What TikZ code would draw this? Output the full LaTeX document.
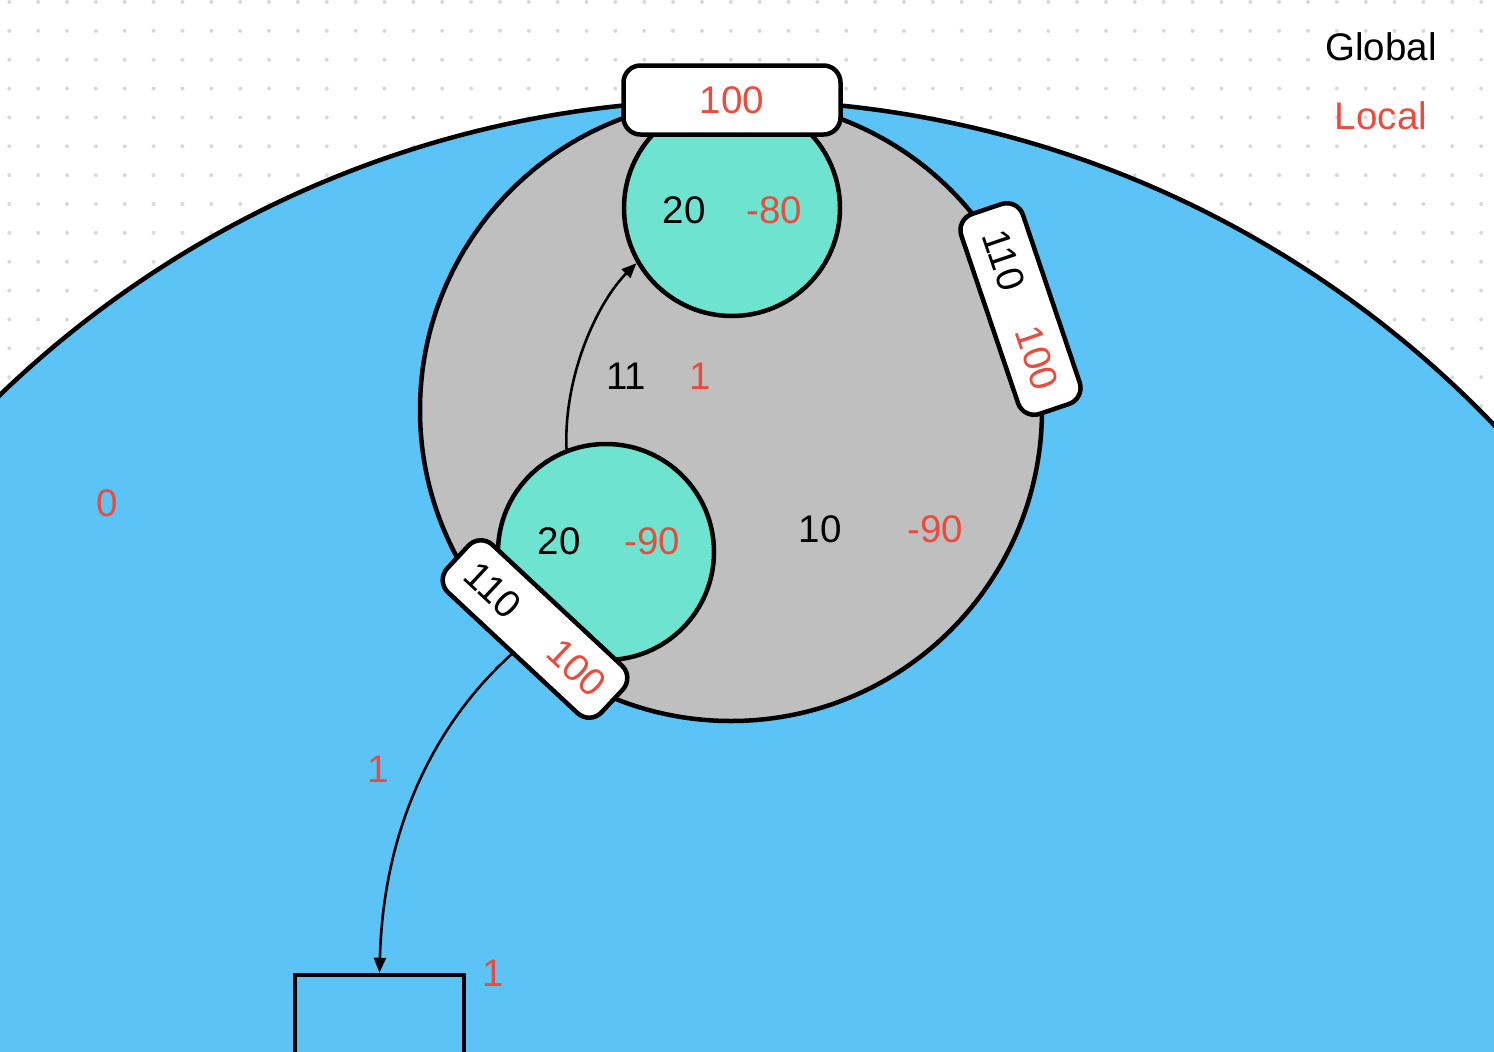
\documentclass[tikz,border=0pt]{standalone}
\usepackage{fontspec}
\setmainfont{Liberation Sans}
\usetikzlibrary{arrows.meta,calc}
\definecolor{bigblue}{HTML}{5BC3F6}
\definecolor{graycirc}{HTML}{BFBFBF}
\definecolor{tealc}{HTML}{6EE4D0}
\definecolor{redtxt}{HTML}{EB4B3D}
\definecolor{dotgray}{HTML}{D9D9D9}
\tikzset{
  every node/.style={font=\fontsize{38.5}{46}\selectfont, inner sep=0pt},
  circ/.style={circle, draw=black, line width=4.5pt, inner sep=0pt},
  tagbox/.style={rectangle, rounded corners=17pt, draw=black, line width=4.5pt, fill=white,
     minimum width=211pt, minimum height=65pt},
  lbl/.style={text=black},
  lblr/.style={text=redtxt},
  conn/.style={draw=black, line width=2.6pt, -{Triangle[length=15pt,width=12pt]}},
}
\begin{document}
\begin{tikzpicture}[x=1pt,y=-1pt]
\useasboundingbox (0,0) rectangle (1494,1052);
\clip (0,0) rectangle (1494,1052);
\fill[white] (0,0) rectangle (1494,1052);
\foreach \i in {0,...,51} {
  \foreach \j in {0,...,36} {
    \fill[dotgray] (9.3+28.86*\i, 2+28.86*\j) circle[radius=2];
  }
}
% big world circle
\node[circ, fill=bigblue, minimum size=2112pt] (world) at (732,1156) {};
% gray cell
\node[circ, fill=graycirc, minimum size=622pt] (cell) at (731,410) {};
% teal circles
\node[circ, fill=tealc, minimum size=216pt] (topc) at (732,208) {};
\node[circ, fill=tealc, minimum size=216pt] (lowc) at (606,552) {};
% bottom rectangle
\node[rectangle, draw=black, line width=4.5pt, fill=bigblue, minimum width=169pt, minimum height=100pt] (rect) at (379.5,1025) {};
% tag boxes
\node[tagbox, minimum width=217pt, minimum height=69pt] (topbox) at (732,100) {\textcolor{redtxt}{100}};
\node[tagbox, rotate=-71.3] (rbox) at (1020.5,309) {};
\node[tagbox, rotate=-43] (llbox) at (535,629) {};
\node[lbl, rotate=-71.3] (rg) at ($(rbox.west)!0.26!(rbox.east)$) {110};
\node[lblr, rotate=-71.3] (rl) at ($(rbox.west)!0.74!(rbox.east)$) {100};
\node[lbl, rotate=-43] (lg) at ($(llbox.west)!0.235!(llbox.east)$) {110};
\node[lblr, rotate=-43] (ll) at ($(llbox.west)!0.765!(llbox.east)$) {100};
% connectors
\draw[conn] (lowc.111) .. controls +(-3,-75) and +(-38,38) .. (topc.210);
\draw[conn] (llbox.south) .. controls +(-73,66) and +(4,-150) .. (rect.north);
% labels
\node[lbl] (g20a) at (684,210) {20};
\node[lblr] (l80) at (774,210) {-80};
\node[lbl] (g20b) at (559,541) {20};
\node[lblr] (l90b) at (652,541) {-90};
\node[lbl] (g11) at (626,376) {11};
\node[lblr] (l1a) at (700,376) {1};
\node[lbl] (g10) at (820,529) {10};
\node[lblr] (l90) at (935,529) {-90};
\node[lblr] (l0) at (107,503) {0};
\node[lblr] (l1b) at (378,769) {1};
\node[lblr] (l1c) at (493,973) {1};
\node[lbl] (global) at (1381,47) {Global};
\node[lblr] (local) at (1381,116) {Local};
\end{tikzpicture}
\end{document}
